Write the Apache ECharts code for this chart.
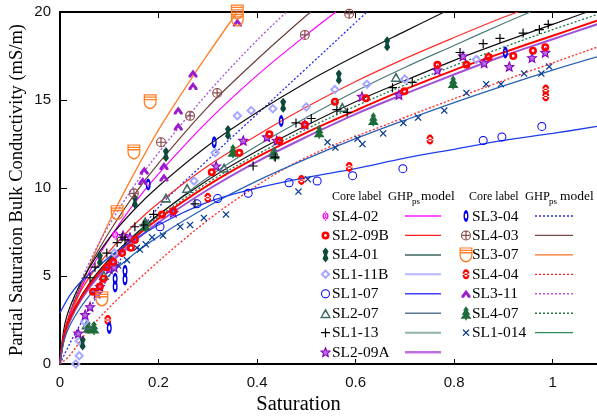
<!DOCTYPE html>
<html><head><meta charset="utf-8">
<script src="https://cdn.jsdelivr.net/npm/echarts/dist/echarts.min.js"></script>
<style>html,body{margin:0;padding:0;background:#fff}#c{width:597px;height:417px}</style>
</head><body><div id="c"></div>
<script>
// ---------- axis settings ----------
const X_MIN = 0, X_MAX = 1.09, X_STEP = 0.2;
const Y_MIN = 0, Y_MAX = 20, Y_STEP = 5;
const X_TITLE = 'Saturation';
const Y_TITLE = 'Partial Saturation Bulk Conductivity (mS/m)';

// ---------- measured points (Saturation, conductivity mS/m) ----------
const SL4_02_pts = [[0.112,7.35]];
const SL2_09B_pts = [[0.067,4.1],[0.081,4.4],[0.088,4.85],[0.095,5.5],[0.108,5.8],[0.126,6.3],[0.144,6.6],[0.152,7.05],[0.207,8.5],[0.23,8.7],[0.308,10.9],[0.364,12.0],[0.425,13.05],[0.445,12.7],[0.497,13.6],[0.558,14.9],[0.621,15.1],[0.699,15.5],[0.766,17.0],[0.825,17.0],[0.87,17.45],[0.92,17.5],[0.96,17.8],[0.985,18.0]];
const SL4_01_pts = [[0.046,1.2],[0.081,5.95],[0.152,9.25],[0.215,11.9],[0.341,13.15],[0.453,14.7],[0.566,16.3],[0.664,18.2]];
const SL1_11B_pts = [[0.032,0.0],[0.039,0.47],[0.039,1.3],[0.05,2.4],[0.11,6.3],[0.272,10.4],[0.315,12.0],[0.36,14.1],[0.388,14.4],[0.432,14.5],[0.50,14.6],[0.558,15.6],[0.623,15.9],[0.70,16.2],[0.845,17.3]];
const SL1_07_pts = [[0.203,7.8],[0.278,9.1],[0.32,9.4],[0.382,9.7],[0.465,10.3],[0.522,10.4],[0.594,10.7],[0.696,11.1],[0.859,12.7],[0.897,12.9],[0.978,13.5]];
const SL2_07_pts = [[0.054,2.25],[0.089,5.05],[0.173,8.1],[0.215,9.45],[0.258,10.0],[0.333,11.15],[0.433,12.05],[0.573,14.6],[0.682,16.3]];
const SL1_13_pts = [[0.061,4.9],[0.071,5.5],[0.095,6.3],[0.116,6.9],[0.126,7.2],[0.132,7.05],[0.152,7.8],[0.17,7.9],[0.19,8.5],[0.274,9.1],[0.392,11.25],[0.437,11.75],[0.479,13.7],[0.51,13.95],[0.562,14.45],[0.583,14.3],[0.675,15.7],[0.715,16.0],[0.812,17.7],[0.859,18.2],[0.893,18.5],[0.94,18.8],[0.973,19.0],[0.991,19.3]];
const SL2_09A_pts = [[0.037,1.75],[0.051,2.8],[0.061,3.25],[0.075,4.0],[0.081,4.4],[0.10,5.4],[0.11,5.5],[0.128,7.3],[0.142,7.2],[0.23,8.6],[0.317,11.25],[0.372,12.7],[0.42,12.9],[0.44,12.7],[0.497,13.6],[0.613,15.2],[0.688,15.3],[0.766,16.7],[0.818,17.5],[0.861,17.1],[0.912,16.9],[0.958,17.4],[0.985,17.7]];
const SL3_04_pts = [[0.1,2.05],[0.112,4.4],[0.112,4.85],[0.132,4.8],[0.132,5.3],[0.179,10.2],[0.313,12.6],[0.449,13.8],[0.904,17.7]];
const SL4_03_pts = [[0.150,9.7],[0.205,12.6],[0.264,14.1],[0.319,15.4],[0.497,18.7],[0.587,19.9]];
const SL3_07_pts = [[0.085,3.7],[0.116,8.6],[0.150,12.05],[0.183,14.9],[0.36,19.6],[0.36,20.0]];
const SL4_04_pts = [[0.097,2.5],[0.30,9.45],[0.49,10.45],[0.587,11.2],[0.751,12.75],[0.986,15.2],[0.986,15.6]];
const SL3_11_pts = [[0.168,10.4],[0.171,11.0],[0.211,10.6],[0.211,11.25],[0.24,13.5],[0.24,14.4],[0.27,15.8],[0.27,16.5],[0.36,19.4]];
const SL4_07_pts = [[0.057,2.1],[0.069,2.05],[0.173,7.9],[0.351,12.1],[0.435,11.95],[0.526,13.2],[0.636,13.9],[0.798,16.0]];
const SL1_014_pts = [[0.118,5.6],[0.136,5.9],[0.156,6.6],[0.162,6.5],[0.174,6.8],[0.187,7.2],[0.209,7.3],[0.244,7.8],[0.264,7.9],[0.292,8.3],[0.337,8.5],[0.484,9.8],[0.503,10.5],[0.543,12.6],[0.559,12.3],[0.604,12.8],[0.614,12.5],[0.656,13.1],[0.697,13.7],[0.727,14.0],[0.78,14.4],[0.825,15.4],[0.865,15.9],[0.895,15.9],[0.942,16.5],[0.977,16.5],[0.993,16.9]];

// ---------- GHPps model curves ----------
const SL3_07_fit = [[0,0],[0.01,1.6],[0.03,3.3],[0.06,5.6],[0.1,8.1],[0.15,10.8],[0.2,13.3],[0.25,15.5],[0.3,17.6],[0.36,20]];
const SL3_11_fit = [[0,0],[0.01,1.9],[0.03,3.8],[0.06,5.8],[0.1,7.9],[0.15,10.1],[0.2,12.0],[0.3,15.4],[0.4,18.4],[0.46,20]];
const SL4_03_fit = [[0,0],[0.01,1.9],[0.03,3.65],[0.06,5.55],[0.1,7.5],[0.15,9.6],[0.2,11.4],[0.3,14.6],[0.4,17.3],[0.5,19.8],[0.51,20]];
const SL4_02_fit = [[0,0],[0.01,1.8],[0.03,3.5],[0.06,5.25],[0.1,7.1],[0.15,9.1],[0.2,10.8],[0.3,13.8],[0.4,16.4],[0.5,18.7],[0.56,20]];
const SL3_04_fit = [[0,0],[0.01,0.6],[0.03,1.7],[0.055,2.9],[0.1,5.0],[0.15,7.0],[0.2,8.9],[0.3,11.6],[0.4,14.2],[0.5,16.8],[0.6,19.4],[0.623,20]];
const SL4_01_fit = [[0,0],[0.01,2.3],[0.03,3.9],[0.06,5.5],[0.1,7.15],[0.15,8.75],[0.2,10.1],[0.3,12.4],[0.4,14.3],[0.5,16.0],[0.6,17.5],[0.7,18.9],[0.78,20]];
const SL1_11B_fit = [[0,0],[0.01,2.0],[0.03,3.5],[0.06,4.95],[0.1,6.4],[0.15,7.9],[0.2,9.15],[0.3,11.25],[0.4,13.0],[0.5,14.6],[0.6,16.05],[0.7,17.35],[0.8,18.55],[0.9,19.7],[0.93,20]];
const SL2_07_fit = [[0,0],[0.01,1.6],[0.03,3.0],[0.06,4.35],[0.1,5.8],[0.15,7.2],[0.2,8.45],[0.3,10.6],[0.4,12.4],[0.5,14.0],[0.6,15.5],[0.7,16.85],[0.8,18.1],[0.9,19.35],[0.955,20]];
const SL1_13_fit = [[0,0],[0.01,1.85],[0.03,3.2],[0.06,4.6],[0.1,5.95],[0.15,7.3],[0.2,8.5],[0.3,10.45],[0.4,12.1],[0.5,13.55],[0.6,14.9],[0.7,16.1],[0.8,17.25],[0.9,18.3],[1.0,19.3],[1.07,20]];
const SL4_07_fit = [[0,0],[0.01,1.8],[0.03,3.15],[0.06,4.5],[0.1,5.85],[0.15,7.2],[0.2,8.35],[0.3,10.3],[0.4,11.9],[0.5,13.35],[0.6,14.65],[0.7,15.85],[0.8,16.95],[0.9,18.0],[1.0,19.0],[1.09,19.85]];
const SL2_09B_fit = [[0,0],[0.01,1.8],[0.03,3.15],[0.06,4.5],[0.1,5.8],[0.15,7.15],[0.2,8.25],[0.3,10.15],[0.4,11.75],[0.5,13.15],[0.6,14.4],[0.7,15.6],[0.8,16.7],[0.9,17.7],[1.0,18.65],[1.09,19.5]];
const SL2_09A_fit = [[0,0],[0.01,1.75],[0.03,3.05],[0.06,4.35],[0.1,5.65],[0.15,6.95],[0.2,8.05],[0.3,9.9],[0.4,11.5],[0.5,12.9],[0.6,14.2],[0.7,15.35],[0.8,16.45],[0.9,17.5],[1.0,18.45],[1.09,19.3]];
const SL4_04_fit = [[0,0],[0.02,0.5],[0.057,1.9],[0.125,3.9],[0.24,6.8],[0.35,9.2],[0.49,11.6],[0.69,13.9],[0.9,16.1],[1.09,18.0]];
const SL1_014_fit = [[0,0],[0.01,1.5],[0.03,2.7],[0.06,3.9],[0.1,5.05],[0.15,6.25],[0.2,7.25],[0.3,8.95],[0.4,10.4],[0.5,11.65],[0.6,12.8],[0.7,13.85],[0.8,14.85],[0.9,15.8],[1.0,16.7],[1.09,17.45]];
const SL1_07_fit = [[0,2.9],[0.02,3.9],[0.04,4.6],[0.08,5.6],[0.12,6.5],[0.2,7.9],[0.3,9.2],[0.4,10.0],[0.5,10.6],[0.6,11.1],[0.7,11.7],[0.8,12.2],[0.9,12.7],[1.0,13.1],[1.09,13.5]];

// ---------- legend layout ----------
const LEGEND_LEFT = ['SL4-02','SL2-09B','SL4-01','SL1-11B','SL1-07','SL2-07','SL1-13','SL2-09A'];
const LEGEND_RIGHT = ['SL3-04','SL4-03','SL3-07','SL4-04','SL3-11','SL4-07','SL1-014'];

// ---------- symbol shapes ----------
const SYM = {
  phi: 'M-1,0A1,1,0,1,0,1,0A1,1,0,1,0,-1,0ZM-0.55,0A0.55,0.55,0,1,1,0.55,0A0.55,0.55,0,1,1,-0.55,0ZM-0.15,-1.4L0.15,-1.4L0.15,1.4L-0.15,1.4Z',
  dotRing: 'M-1,0A1,1,0,1,0,1,0A1,1,0,1,0,-1,0ZM-0.35,0A0.35,0.35,0,1,1,0.35,0A0.35,0.35,0,1,1,-0.35,0Z',
  ring: 'M-1,0A1,1,0,1,0,1,0A1,1,0,1,0,-1,0ZM-0.78,0A0.78,0.78,0,1,1,0.78,0A0.78,0.78,0,1,1,-0.78,0Z',
  ringE: 'M-1,0A1,1,0,1,0,1,0A1,1,0,1,0,-1,0ZM-0.45,0A0.45,0.45,0,1,1,0.45,0A0.45,0.45,0,1,1,-0.45,0Z',
  waist: 'M0,-1L0.5,-0.5L0.25,0L0.5,0.5L0,1L-0.5,0.5L-0.25,0L-0.5,-0.5Z',
  diamondH: 'M0,-1L1,0L0,1L-1,0ZM0,-0.45L-0.45,0L0,0.45L0.45,0Z',
  triH: 'M0,-1L1,1L-1,1ZM0,-0.3L-0.6,0.68L0.6,0.68Z',
  plus: 'M-1,-0.13L-0.13,-0.13L-0.13,-1L0.13,-1L0.13,-0.13L1,-0.13L1,0.13L0.13,0.13L0.13,1L-0.13,1L-0.13,0.13L-1,0.13Z',
  star: 'M0,-1L0.26,-0.36L0.95,-0.31L0.43,0.14L0.59,0.81L0,0.45L-0.59,0.81L-0.43,0.14L-0.95,-0.31L-0.26,-0.36Z',
  oplus: 'M-1,0A1,1,0,1,0,1,0A1,1,0,1,0,-1,0ZM-0.78,0A0.78,0.78,0,1,1,0.78,0A0.78,0.78,0,1,1,-0.78,0ZM-0.8,-0.12L0.8,-0.12L0.8,0.12L-0.8,0.12ZM-0.12,-0.8L0.12,-0.8L0.12,0.8L-0.12,0.8Z',
  shield: 'M-1,-1L1,-1L1,0A1,1,0,0,1,-1,0ZM-0.8,-0.84L-0.8,-0.7L0.8,-0.7L0.8,-0.84ZM-0.8,-0.52L-0.8,-0.38L0.8,-0.38L0.8,-0.52ZM-0.8,-0.2L-0.8,0A0.8,0.8,0,0,0,0.8,0L0.8,-0.2Z',
  house: 'M-1,0A1,1,0,1,0,1,0A1,1,0,1,0,-1,0ZM-0.5,0A0.5,0.5,0,1,1,0.5,0A0.5,0.5,0,1,1,-0.5,0ZM-1,-0.12L1,-0.12L1,0.12L-1,0.12Z',
  arch: 'M0,-1L1,0.5L1,1L0.45,1L0,0.2L-0.45,1L-1,1L-1,0.5Z',
  tree: 'M0,-1L0.5,-0.4L0.25,-0.4L0.7,0.2L0.4,0.2L0.9,0.8L0.12,0.8L0.12,1L-0.12,1L-0.12,0.8L-0.9,0.8L-0.4,0.2L-0.7,0.2L-0.25,-0.4L-0.5,-0.4Z',
  cross: 'M-1,-0.75L-0.75,-1L0,-0.25L0.75,-1L1,-0.75L0.25,0L1,0.75L0.75,1L0,0.25L-0.75,1L-1,0.75L-0.25,0Z'
};

// ---------- per-core styles ----------
const STY = {
  'SL4-02':  {pts:SL4_02_pts,  fit:SL4_02_fit,  sym:'phi',     size:[6,10],  fill:'#ff00ff', line:{c:'#ff00ff',w:1.2,t:null}, leg:{c:'#ff50ff',w:2,t:null}},
  'SL2-09B': {pts:SL2_09B_pts, fit:SL2_09B_fit, sym:'dotRing', size:[8,8],   fill:'#ff0000', line:{c:'#ff0000',w:2,t:null},   leg:{c:'#ff2020',w:1.3,t:null}},
  'SL4-01':  {pts:SL4_01_pts,  fit:SL4_01_fit,  sym:'waist',   size:[6,15],  fill:'#0d4a3c', line:{c:'#111111',w:1.2,t:null}, leg:{c:'#3b6460',w:1.5,t:null}},
  'SL1-11B': {pts:SL1_11B_pts, fit:SL1_11B_fit, sym:'diamondH',size:[10,10], fill:'#a4a6ff', line:{c:'#ff2a2a',w:1.2,t:null}, leg:{c:'#b8b8ff',w:2,t:null}},
  'SL1-07':  {pts:SL1_07_pts,  fit:SL1_07_fit,  sym:'ring',    size:[9,9],   fill:'#0000ff', line:{c:'#1f3fe8',w:1.3,t:null}, leg:{c:'#4040ff',w:1.5,t:null}},
  'SL2-07':  {pts:SL2_07_pts,  fit:SL2_07_fit,  sym:'triH',    size:[11,10], fill:'#3d6a68', line:{c:'#4d7a7a',w:1.2,t:null}, leg:{c:'#5a7890',w:1.5,t:null}},
  'SL1-13':  {pts:SL1_13_pts,  fit:SL1_13_fit,  sym:'plus',    size:[9,9],   fill:'#000000', line:{c:'#111111',w:1.2,t:null}, leg:{c:'#8fb2aa',w:2,t:null}},
  'SL2-09A': {pts:SL2_09A_pts, fit:SL2_09A_fit, sym:'star',    size:[9,9],   fill:'#b46ee0', stroke:'#8a00c0', bw:1.1, line:{c:'#a050d8',w:2,t:null}, leg:{c:'#c070e0',w:2.5,t:null}},
  'SL3-04':  {pts:SL3_04_pts,  fit:SL3_04_fit,  sym:'ringE',   size:[5,12],  fill:'#0000ee', line:{c:'#2a2af0',w:1.3,t:[2,2]}, leg:{c:'#3030ee',w:1.3,t:[2,2]}},
  'SL4-03':  {pts:SL4_03_pts,  fit:SL4_03_fit,  sym:'oplus',   size:[10,10], fill:'#8a4848', line:{c:'#6b3f3a',w:1.2,t:null}, leg:{c:'#7a4a48',w:1.3,t:null}},
  'SL3-07':  {pts:SL3_07_pts,  fit:SL3_07_fit,  sym:'shield',  size:[13,15], fill:'#ff7f27', line:{c:'#ff7f27',w:1.3,t:null}, leg:{c:'#ff7020',w:1.3,t:null}},
  'SL4-04':  {pts:SL4_04_pts,  fit:SL4_04_fit,  sym:'house',   size:[7,10],  fill:'#ff0000', line:{c:'#ff3030',w:1.4,t:[2,2]}, leg:{c:'#ff2020',w:1.3,t:[2,2]}},
  'SL3-11':  {pts:SL3_11_pts,  fit:SL3_11_fit,  sym:'arch',    size:[9,8],   fill:'#9a1ccc', line:{c:'#a64ee0',w:1.3,t:[2,2]}, leg:{c:'#c050e8',w:1.5,t:[2,2]}},
  'SL4-07':  {pts:SL4_07_pts,  fit:SL4_07_fit,  sym:'tree',    size:[11,14], fill:'#1b6b3b', line:{c:'#1c7a40',w:1.3,t:[2,2]}, leg:{c:'#207a40',w:1.3,t:[2,2]}},
  'SL1-014': {pts:SL1_014_pts, fit:SL1_014_fit, sym:'cross',   size:[7,7],   fill:'#0b3d91', line:{c:'#2a62b8',w:1.3,t:null}, leg:{c:'#2e8b57',w:1.3,t:null}}
};
const LINE_ORDER = ['SL3-07','SL3-11','SL4-03','SL4-02','SL3-04','SL4-01','SL1-11B','SL2-07','SL1-13','SL4-07','SL2-09A','SL2-09B','SL4-04','SL1-014','SL1-07'];
const MARK_ORDER = ['SL1-014','SL4-04','SL1-07','SL3-04','SL4-07','SL2-07','SL1-11B','SL4-01','SL2-09A','SL2-09B','SL1-13','SL3-11','SL4-03','SL3-07','SL4-02'];

const series = [];
LINE_ORDER.forEach(n => {
  const s = STY[n];
  series.push({
    name: n + ' model', type: 'line', data: s.fit, showSymbol: false, smooth: 0.35,
    lineStyle: {color: s.line.c, width: s.line.w, type: s.line.t || 'solid'}, silent: true, z: 2
  });
});
MARK_ORDER.forEach(n => {
  const s = STY[n];
  series.push({
    name: n, type: 'scatter', data: s.pts, symbol: 'path://' + SYM[s.sym], symbolSize: s.size,
    itemStyle: {color: s.fill, borderColor: s.stroke || s.fill, borderWidth: s.bw || 0, opacity: 1}, z: 3
  });
});

const legendItems = [];
LEGEND_LEFT.forEach((n, i) => legendItems.push({name: n, col: 0, row: i}));
LEGEND_RIGHT.forEach((n, i) => legendItems.push({name: n, col: 1, row: i}));

series.push({
  type: 'custom', coordinateSystem: 'none', silent: true, z: 5,
  data: legendItems.map((d, i) => [i]),
  renderItem: function (params) {
    const it = legendItems[params.dataIndex];
    const s = STY[it.name];
    const L = it.col === 0 ? {mx: 325.5, tx: 332, l1: 405, l2: 441} : {mx: 466, tx: 472, l1: 535, l2: 573};
    const y = 216 + it.row * 19.45;
    const w = s.size[0], h = s.size[1];
    return {
      type: 'group',
      children: [
        {type: 'path', shape: {pathData: SYM[s.sym], x: L.mx - w / 2, y: y - h / 2, width: w, height: h, layout: 'cover'},
         style: {fill: s.fill, stroke: s.stroke || null, lineWidth: s.bw || 0}},
        {type: 'text', x: L.tx, y: y + 0.5,
         style: {text: it.name, font: '15.5px "Liberation Serif"', fill: '#000', verticalAlign: 'middle', align: 'left'}},
        {type: 'line', shape: {x1: L.l1, y1: y, x2: L.l2, y2: y},
         style: {stroke: s.leg.c, lineWidth: s.leg.w, lineDash: s.leg.t || null}}
      ]
    };
  }
});

function xFmt(v) {
  const r = Math.round(v / X_STEP) * X_STEP;
  if (Math.abs(v - r) > 1e-6) return '';
  return String(+r.toFixed(1));
}

const headerFont = '"Liberation Serif"';
const headers = [];
[[332, 388, 412, 421], [469, 525, 549, 560]].forEach(p => {
  headers.push({type: 'text', left: p[0], top: 191, style: {text: 'Core label', font: '12px ' + headerFont, fill: '#000'}});
  headers.push({type: 'text', left: p[1], top: 190, style: {text: 'GHP', font: '12.5px ' + headerFont, fill: '#000'}});
  headers.push({type: 'text', left: p[2], top: 197, style: {text: 'ps', font: '9px ' + headerFont, fill: '#000'}});
  headers.push({type: 'text', left: p[3], top: 189, style: {text: 'model', font: '13.5px ' + headerFont, fill: '#000'}});
});

const chart = echarts.init(document.getElementById('c'), null, {renderer: 'canvas'});
chart.setOption({
  animation: false,
  backgroundColor: '#fff',
  grid: {left: 60, top: 12, right: 0, bottom: 53, containLabel: false},
  xAxis: [
    {type: 'value', min: X_MIN, max: X_MAX, interval: X_STEP, position: 'bottom',
     axisLine: {show: true, onZero: false, lineStyle: {color: '#000', width: 2}},
     axisTick: {show: true, inside: true, length: 5, lineStyle: {color: '#000', width: 1}},
     axisLabel: {formatter: xFmt, showMaxLabel: false, color: '#111', fontFamily: 'Liberation Sans', fontSize: 15, margin: 11},
     splitLine: {show: false}},
    {type: 'value', min: X_MIN, max: X_MAX, interval: X_STEP, position: 'top',
     axisLine: {show: true, onZero: false, lineStyle: {color: '#000', width: 2}},
     axisTick: {show: true, inside: true, length: 6, lineStyle: {color: '#000', width: 1}},
     axisLabel: {show: false}, splitLine: {show: false}}
  ],
  yAxis: [
    {type: 'value', min: Y_MIN, max: Y_MAX, interval: Y_STEP, position: 'left',
     axisLine: {show: true, onZero: false, lineStyle: {color: '#000', width: 2}},
     axisTick: {show: true, inside: true, length: 7, lineStyle: {color: '#000', width: 1}},
     axisLabel: {color: '#111', fontFamily: 'Liberation Sans', fontSize: 15, margin: 9},
     splitLine: {show: false}}
  ],
  graphic: [
    {type: 'text', left: 'center', top: 394, z: 10,
     style: {text: X_TITLE, font: '20.5px "Liberation Serif"', fill: '#000'}},
    {type: 'text', x: 17, y: 190, rotation: Math.PI / 2, z: 10,
     style: {text: Y_TITLE, font: '18.5px "Liberation Serif"', fill: '#000', align: 'center', verticalAlign: 'middle'}}
  ].concat(headers),
  series: series
});
</script></body></html>
